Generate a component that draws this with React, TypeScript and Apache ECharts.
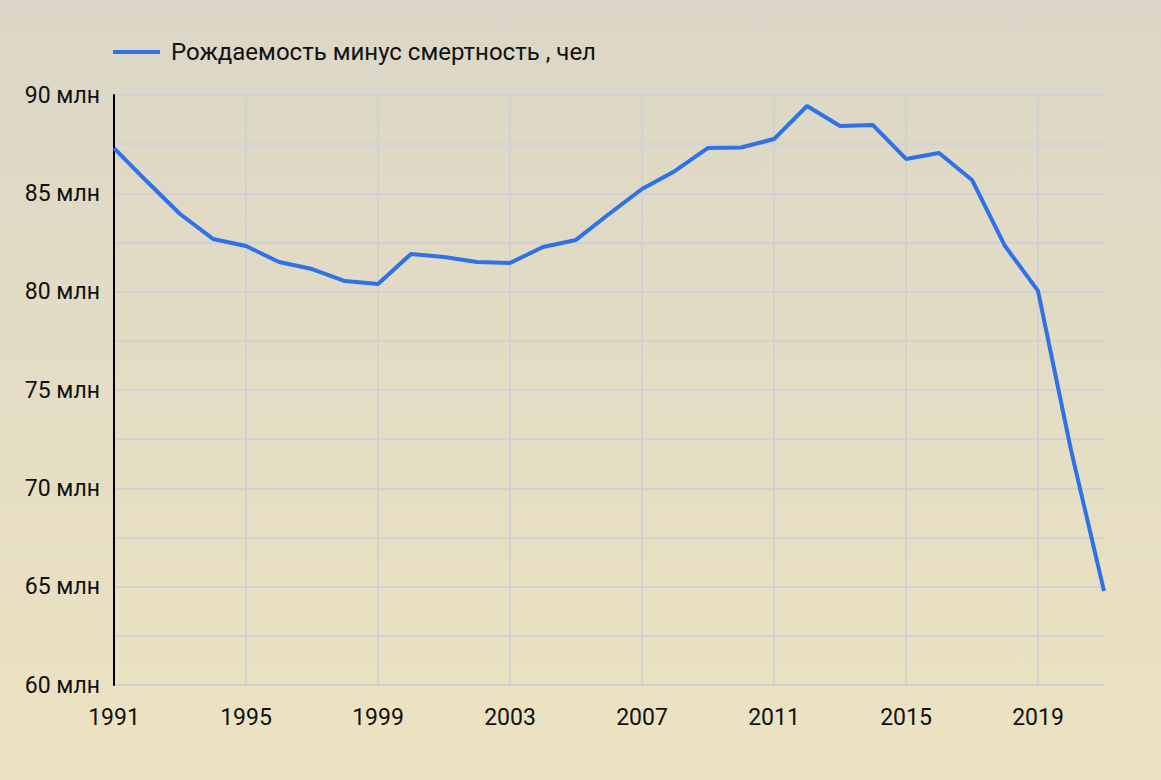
import React, { useEffect, useRef } from "react";
import * as echarts from "echarts";

const years: string[] = [
  "1991", "1992", "1993", "1994", "1995", "1996", "1997", "1998", "1999", "2000",
  "2001", "2002", "2003", "2004", "2005", "2006", "2007", "2008", "2009", "2010",
  "2011", "2012", "2013", "2014", "2015", "2016", "2017", "2018", "2019", "2020", "2021",
];

// values in millions
const values: number[] = [
  87.3, 85.6, 83.95, 82.68, 82.32, 81.51, 81.15, 80.54, 80.39, 81.92,
  81.76, 81.51, 81.46, 82.27, 82.63, 83.95, 85.22, 86.14, 87.31, 87.33,
  87.76, 89.44, 88.42, 88.47, 86.75, 87.05, 85.68, 82.32, 80.04, 71.95, 64.78,
];

const seriesName = "Рождаемость минус смертность , чел";

export default function App() {
  const ref = useRef<HTMLDivElement>(null);
  useEffect(() => {
    if (!ref.current) return;
    const chart = echarts.init(ref.current, undefined, { renderer: "svg" });
    const font = "Roboto, 'Noto Sans', sans-serif";
    chart.setOption({
      animation: false,
      backgroundColor: new echarts.graphic.LinearGradient(0, 0, 0, 1, [
        { offset: 0, color: "#dbd6c7" },
        { offset: 1, color: "#ede3c1" },
      ]),
      textStyle: { fontFamily: font },
      legend: {
        left: 108,
        top: 35,
        icon: "rect",
        itemWidth: 47,
        itemHeight: 4,
        itemGap: 10,
        textStyle: { fontSize: 24, color: "#111", fontFamily: font, padding: [0, 0, 0, 6] },
        data: [seriesName],
      },
      grid: { left: 114, right: 57, top: 95, bottom: 95, containLabel: false },
      xAxis: {
        type: "category",
        data: years,
        boundaryGap: false,
        axisLine: { show: false },
        axisTick: { show: false },
        axisLabel: {
          interval: 3,
          fontSize: 23,
          color: "#111",
          margin: 21,
          fontFamily: font,
        },
        splitLine: {
          show: true,
          interval: 3,
          lineStyle: { color: "#d2d2d2", width: 2 },
        },
      },
      yAxis: {
        type: "value",
        min: 60,
        max: 90,
        interval: 2.5,
        axisLine: { show: true, lineStyle: { color: "#000", width: 2 } },
        axisTick: { show: false },
        axisLabel: {
          fontSize: 23,
          color: "#111",
          margin: 14,
          fontFamily: font,
          formatter: (v: number) => (Math.abs(v % 5) < 1e-6 ? `${v} млн` : ""),
        },
        splitLine: { show: true, lineStyle: { color: "#d2d2d2", width: 2 } },
      },
      series: [
        {
          name: seriesName,
          type: "line",
          data: values,
          symbol: "none",
          itemStyle: { color: "#2f72e8" },
          lineStyle: { color: "#2f72e8", width: 4 },
        },
      ],
    });
    return () => chart.dispose();
  }, []);
  return (
    <div
      ref={ref}
      style={{ position: "fixed", left: 0, top: 0, width: 1161, height: 780 }}
    />
  );
}
